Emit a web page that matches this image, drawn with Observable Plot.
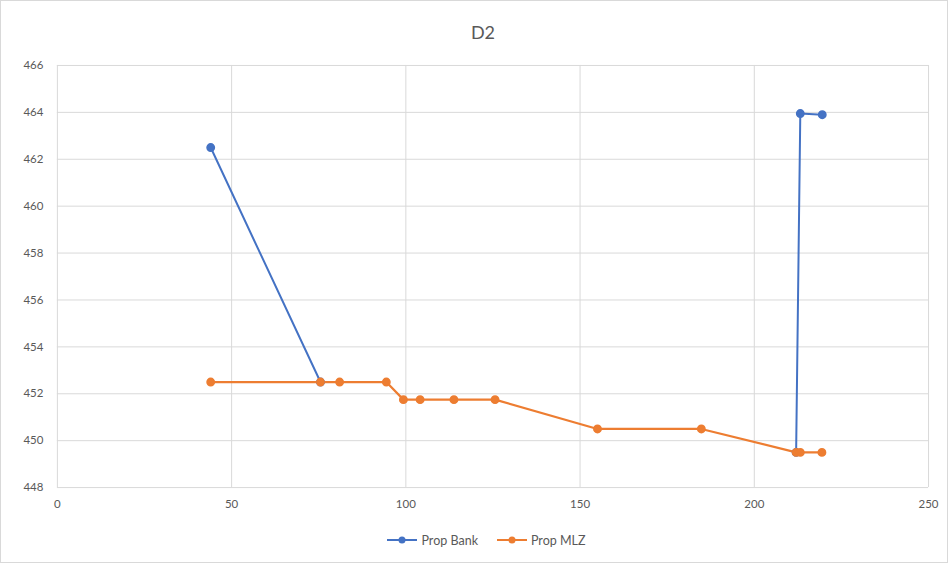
<!DOCTYPE html>
<html>
<head>
<meta charset="utf-8">
<script src="https://cdn.jsdelivr.net/npm/d3@7"></script>
<script src="https://cdn.jsdelivr.net/npm/@observablehq/plot@0.6"></script>
<style>
  html, body { margin: 0; padding: 0; background: #fff; }
  #chart { position: relative; width: 946px; height: 561px; border: 1px solid #d9d9d9; font-family: Lato, "Open Sans", sans-serif; overflow: hidden; }
  #title { height: 47px; line-height: 62px; text-align: center; font-size: 18px; color: #595959; padding-left: 18px; }
  #legend { display: flex; justify-content: center; align-items: center; gap: 18px; font-size: 12.5px; color: #595959; margin-top: 6px; padding-left: 24px; }
  .item { display: flex; align-items: center; gap: 3px; }
</style>
</head>
<body>
<div id="chart">
  <div id="title">D2</div>
  <div id="plot"></div>
  <div id="legend"></div>
</div>
<script>
const title = "D2";
const seriesNames = ["Prop Bank", "Prop MLZ"];
const seriesColors = ["#4472C4", "#ED7D31"];

// Prop Bank (two separate runs)
const bankX = [44, 75.5, 212, 213.2, 219.5];
const bankY = [462.5, 452.5, 449.5, 463.95, 463.9];
const bankRun = [1, 1, 2, 2, 2];

// Prop MLZ
const mlzX = [44, 75.5, 81, 94.4, 99.3, 104.1, 113.8, 125.6, 155, 184.8, 212, 213.2, 219.4];
const mlzY = [452.5, 452.5, 452.5, 452.5, 451.75, 451.75, 451.75, 451.75, 450.5, 450.5, 449.5, 449.5, 449.5];

const xTicks = [0, 50, 100, 150, 200, 250];
const yTicks = [448, 450, 452, 454, 456, 458, 460, 462, 464, 466];

const bank = bankX.map((x, i) => ({x, y: bankY[i], run: bankRun[i], s: seriesNames[0]}));
const mlz = mlzX.map((x, i) => ({x, y: mlzY[i], run: 0, s: seriesNames[1]}));

const plot = Plot.plot({
  width: 948,
  height: 480,
  marginTop: 17,
  marginBottom: 40,
  marginLeft: 56,
  marginRight: 19,
  style: { fontFamily: "Lato, 'Open Sans', sans-serif", fontSize: "11.5px", color: "#595959", background: "#fff" },
  x: { domain: [0, 250], ticks: xTicks, label: null },
  y: { domain: [448, 466], ticks: yTicks, label: null },
  marks: [
    Plot.gridX(xTicks, { stroke: "#d9d9d9", strokeOpacity: 1 }),
    Plot.gridY(yTicks, { stroke: "#d9d9d9", strokeOpacity: 1 }),
    Plot.axisX(xTicks, { tickSize: 0, tickPadding: 12, fill: "#595959" }),
    Plot.axisY(yTicks, { tickSize: 0, tickPadding: 14, fill: "#595959" }),
    Plot.line(bank, { x: "x", y: "y", z: "run", stroke: seriesColors[0], strokeWidth: 2 }),
    Plot.line(mlz, { x: "x", y: "y", stroke: seriesColors[1], strokeWidth: 2.2 }),
    Plot.dot(bank, { x: "x", y: "y", r: 3.7, fill: seriesColors[0], stroke: seriesColors[0] }),
    Plot.dot(mlz, { x: "x", y: "y", r: 3.7, fill: seriesColors[1], stroke: seriesColors[1] })
  ]
});
document.getElementById("plot").appendChild(plot);

const legend = document.getElementById("legend");
seriesNames.forEach((name, i) => {
  const item = document.createElement("div");
  item.className = "item";
  item.innerHTML = `<svg width="32" height="10"><line x1="1" y1="5" x2="31" y2="5" stroke="${seriesColors[i]}" stroke-width="2"/><circle cx="16" cy="5" r="3.5" fill="${seriesColors[i]}"/></svg><span>${name}</span>`;
  legend.appendChild(item);
});
</script>
</body>
</html>
